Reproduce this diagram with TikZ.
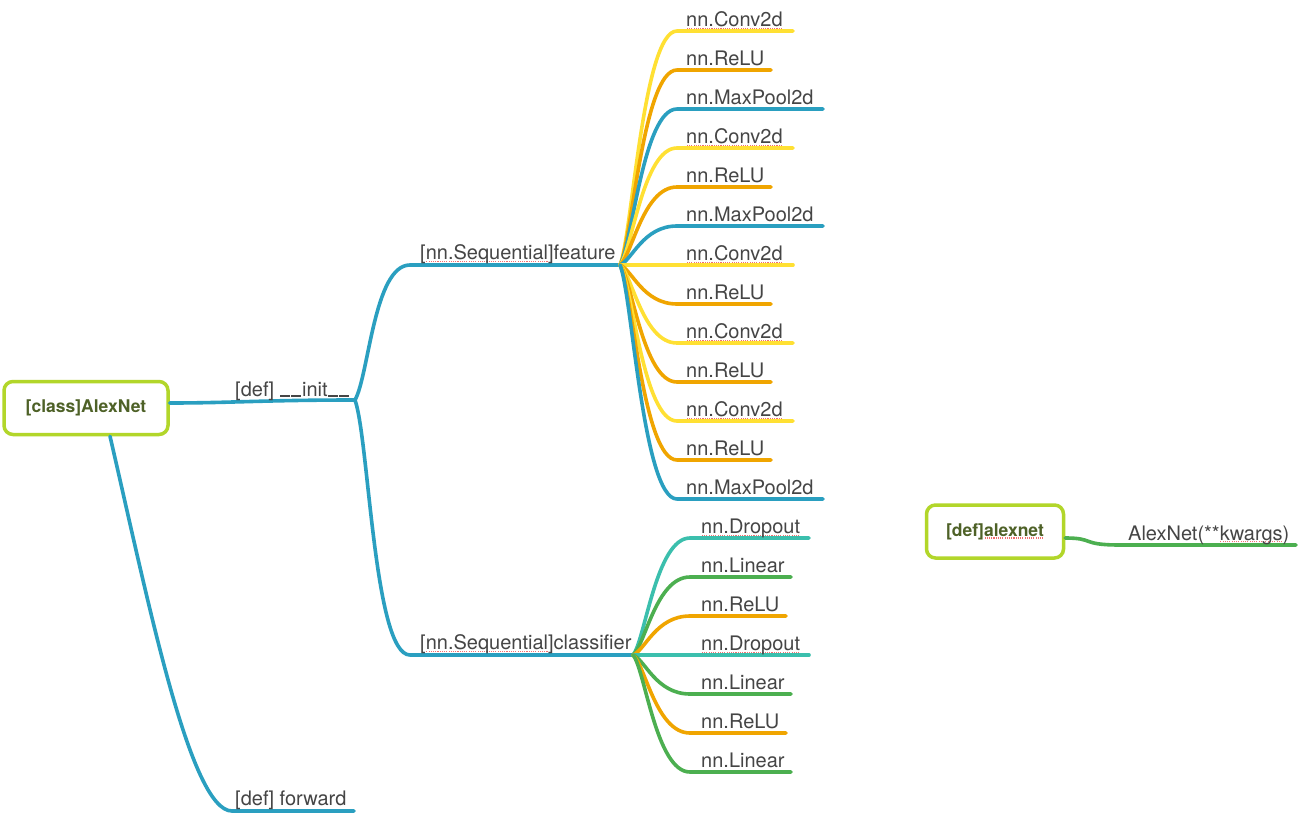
\documentclass[tikz,border=0pt]{standalone}
\usepackage{fontspec}
\setmainfont{TeX Gyre Heros}
\usetikzlibrary{calc}

\definecolor{topicblue}{HTML}{2A9FC0}
\definecolor{convyellow}{HTML}{FFE033}
\definecolor{reluorange}{HTML}{F0A500}
\definecolor{dropteal}{HTML}{3BBFAD}
\definecolor{lingreen}{HTML}{4CAF50}
\definecolor{rootborder}{HTML}{B2D62A}
\definecolor{roottext}{HTML}{4E6127}
\definecolor{labeltext}{HTML}{454545}
\definecolor{spellred}{HTML}{F07070}

% dotted red underline for words flagged by the spell checker
\newcommand\spellmark[1]{\setbox0\hbox{#1}\rlap{\raisebox{-2.4pt}{\hbox to \wd0{\color{spellred}\xleaders\hbox to 2.2pt{\hss\rule{1.1pt}{1.1pt}\hss}\hfill}}}\box0}
% underscore drawn on the baseline
\newcommand\lowbar{\kern0.6pt\rule[0pt]{0.5em}{1.4pt}\kern0.6pt}

\tikzset{
  rootbox/.style={draw=rootborder, line width=3.5pt, rounded corners=9pt,
    text=roottext, font=\bfseries\fontsize{17.5}{20}\selectfont,
    inner sep=0pt, fill=white},
  leaflabel/.style={anchor=base west, inner sep=0pt, text=labeltext,
    font=\fontsize{20}{24}\selectfont},
  branch/.style={line width=3.6pt, line cap=round},
}

\begin{document}
\begin{tikzpicture}[x=1pt, y={(0pt,-1pt)}]
\useasboundingbox (0,0) rectangle (1300,816);
\fill[white] (0,0) rectangle (1300,816);

% ---------- class AlexNet ----------
\node[rootbox, minimum width=164pt, minimum height=53pt] (root) at (86,408) {[class]AlexNet};

\coordinate (init) at (355,400);
\coordinate (featstart) at (410,265);
\coordinate (feat) at (620,265);
\coordinate (clsstart) at (410,655);
\coordinate (cls) at (633,655);
\coordinate (fwdstart) at (232,811);
\coordinate (fwdend) at (354,811);

\draw[branch, topicblue] ($(root.east)+(0,-5)$) .. controls +(60,0) and +(-90,0) .. (init);
\node[leaflabel] (initlbl) at (235,396.5) {[def] \lowbar\lowbar init\lowbar\lowbar};

\draw[branch, topicblue] (init) .. controls +(14,-25) and +(-36,0) .. (featstart) -- (feat);
\node[leaflabel] (featlbl) at (420,259.5) {[\spellmark{nn.Sequential}]feature};

\draw[branch, topicblue] (init) .. controls +(14,40) and +(-36,0) .. (clsstart) -- (cls);
\node[leaflabel] (clslbl) at (420,649.5) {[\spellmark{nn.Sequential}]classifier};

\draw[branch, topicblue] ($(root.south)+(24,0)$) .. controls (148,600) and (190,811) .. (fwdstart) -- (fwdend);
\node[leaflabel] (fwdlbl) at (235,805.5) {[def] forward};

% ---------- feature layers ----------
\foreach \y/\txt/\col/\xe [count=\i] in {
  31/\spellmark{nn.Conv2d}/convyellow/793,
  70/nn.ReLU/reluorange/771,
  109/nn.MaxPool2d/topicblue/823,
  148/\spellmark{nn.Conv2d}/convyellow/793,
  187/nn.ReLU/reluorange/771,
  226/nn.MaxPool2d/topicblue/823,
  265/\spellmark{nn.Conv2d}/convyellow/793,
  304/nn.ReLU/reluorange/771,
  343/\spellmark{nn.Conv2d}/convyellow/793,
  382/nn.ReLU/reluorange/771,
  421/\spellmark{nn.Conv2d}/convyellow/793,
  460/nn.ReLU/reluorange/771,
  499/nn.MaxPool2d/topicblue/823}{
  \coordinate (fc\i) at (677,\y);
  \coordinate (fe\i) at (\xe,\y);
  \draw[branch, \col] (feat) .. controls +(12,{(\y-265)*0.12}) and +(-34,0) .. (fc\i) -- (fe\i);
  \node[leaflabel] (fl\i) at (686,\y-4.5) {\txt};
}

% ---------- classifier layers ----------
\foreach \y/\txt/\col/\xe [count=\i] in {
  538/\spellmark{nn.Dropout}/dropteal/809,
  577/nn.Linear/lingreen/791,
  616/nn.ReLU/reluorange/786,
  655/\spellmark{nn.Dropout}/dropteal/809,
  694/nn.Linear/lingreen/791,
  733/nn.ReLU/reluorange/786,
  772/nn.Linear/lingreen/791}{
  \coordinate (cc\i) at (690,\y);
  \coordinate (ce\i) at (\xe,\y);
  \draw[branch, \col] (cls) .. controls +(12,{(\y-655)*0.12}) and +(-34,0) .. (cc\i) -- (ce\i);
  \node[leaflabel] (cl\i) at (701,\y-4.5) {\txt};
}

% ---------- def alexnet ----------
\node[rootbox, minimum width=137pt, minimum height=53pt] (alex) at (995,531.5) {[def]\spellmark{alexnet}};
\coordinate (callstart) at (1120,545);
\coordinate (callend) at (1296,545);
\draw[branch, lingreen] ($(alex.east)+(0,6.5)$) .. controls +(30,0) and +(-40,0) .. (callstart) -- (callend);
\node[leaflabel] (calllbl) at (1128,540) {AlexNet(**\spellmark{kwargs})};

\end{tikzpicture}
\end{document}
